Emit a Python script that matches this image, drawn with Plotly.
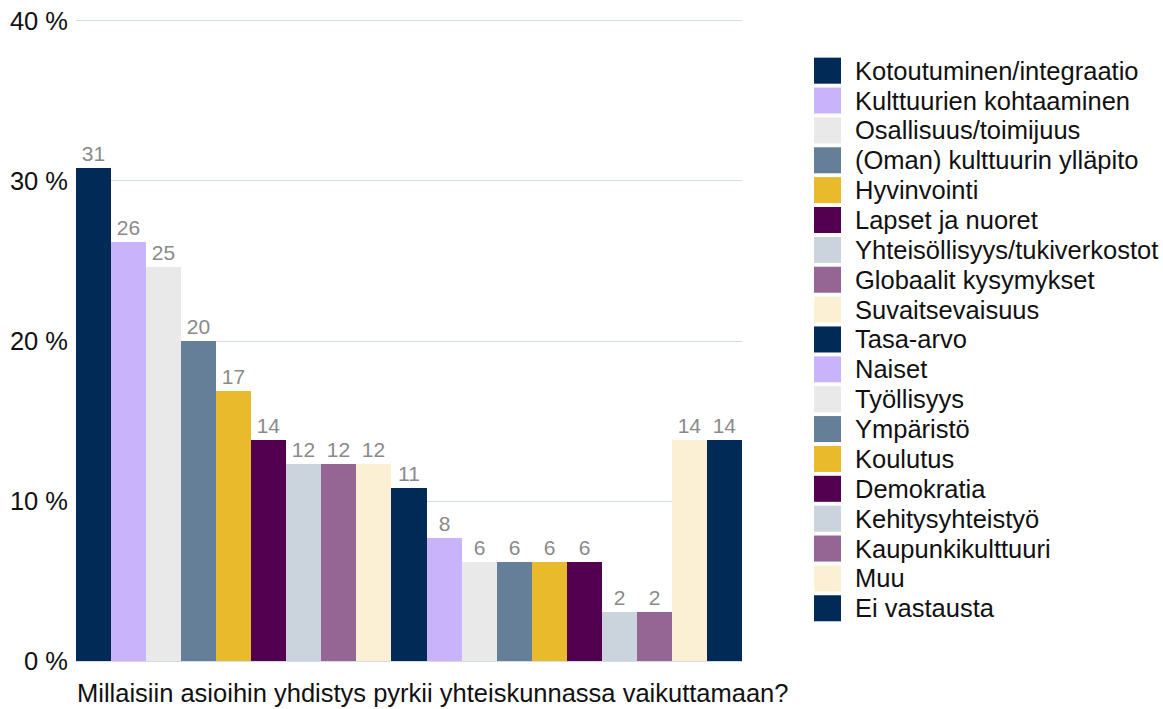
import plotly.graph_objects as go

categories = [
    "Kotoutuminen/integraatio", "Kulttuurien kohtaaminen", "Osallisuus/toimijuus",
    "(Oman) kulttuurin ylläpito", "Hyvinvointi", "Lapset ja nuoret",
    "Yhteisöllisyys/tukiverkostot", "Globaalit kysymykset", "Suvaitsevaisuus",
    "Tasa-arvo", "Naiset", "Työllisyys", "Ympäristö", "Koulutus", "Demokratia",
    "Kehitysyhteistyö", "Kaupunkikulttuuri", "Muu", "Ei vastausta",
]
values = [30.8, 26.2, 24.6, 20.0, 16.9, 13.8, 12.3, 12.3, 12.3, 10.8,
          7.7, 6.2, 6.2, 6.2, 6.2, 3.1, 3.1, 13.8, 13.8]
labels = ["31", "26", "25", "20", "17", "14", "12", "12", "12", "11",
          "8", "6", "6", "6", "6", "2", "2", "14", "14"]
palette = ["#012a57", "#c9b4fb", "#e9e9e9", "#667f99", "#e9bb2c", "#540050",
           "#cbd3dd", "#956694", "#fbf0d3"]
colors = [palette[i % len(palette)] for i in range(len(categories))]
y_ticks = [0, 10, 20, 30, 40]
y_tick_text = ["0 %", "10 %", "20 %", "30 %", "40 %"]
x_title = "Millaisiin asioihin yhdistys pyrkii yhteiskunnassa vaikuttamaan?"

W, H = 1163, 709
L, R = 76, 742
Y0_PX, Y40_PX = 661, 21          # pixel rows of 0 % and 40 %
PADV = 0.1                        # small range pad so edge gridlines stay visible
PXPER = (Y0_PX - Y40_PX) / 40.0
T = Y40_PX - PADV * PXPER
B = Y0_PX + PADV * PXPER
FONT = "Liberation Sans, Arial, sans-serif"
FS = 25.5

def px_x(p):
    return (p - L) / (R - L)

def px_y(p):
    return (B - p) / (B - T)

fig = go.Figure()
for name, v, lab, c in zip(categories, values, labels, colors):
    fig.add_trace(go.Bar(
        x=[0], y=[v], name=name, marker=dict(color=c, line=dict(width=0)),
        text=[lab], textposition="outside", cliponaxis=False,
        textfont=dict(family=FONT, size=21, color="#8a8a8a"),
        showlegend=False,
    ))

shapes = []
annotations = []
for i, (name, c) in enumerate(zip(categories, colors)):
    cy = 71 + i * 29.83
    shapes.append(dict(type="rect", xref="paper", yref="paper",
                       x0=px_x(814), x1=px_x(841), y0=px_y(cy + 13), y1=px_y(cy - 13),
                       fillcolor=c, line=dict(width=0)))
    annotations.append(dict(text=name, xref="paper", yref="paper",
                            x=px_x(853), y=px_y(cy), xanchor="left", yanchor="middle",
                            showarrow=False, font=dict(family=FONT, size=FS, color="#111111")))

annotations.append(dict(text=x_title, xref="paper", yref="paper",
                        x=px_x(75), y=px_y(693), xanchor="left", yanchor="middle",
                        showarrow=False, font=dict(family=FONT, size=FS, color="#111111")))

fig.update_layout(
    width=W, height=H,
    margin=dict(l=L, r=W - R, t=T, b=H - B, pad=0, autoexpand=False),
    barmode="group", bargap=0, bargroupgap=0,
    plot_bgcolor="white", paper_bgcolor="white",
    font=dict(family=FONT, size=FS, color="#111111"),
    xaxis=dict(range=[-0.5, 0.5], showticklabels=False, showgrid=False,
               zeroline=False, showline=False, fixedrange=True, automargin=False),
    yaxis=dict(range=[-PADV, 40 + PADV], tickmode="array", tickvals=y_ticks,
               ticktext=y_tick_text,
               gridcolor="#d3dbe6", gridwidth=1, zeroline=False, showline=False,
               tickfont=dict(family=FONT, size=FS, color="#111111"),
               ticklabelstandoff=7, automargin=False),
    shapes=shapes, annotations=annotations,
)

fig.write_html("out.html", config={"displayModeBar": False},
               post_script="document.body.style.margin='0px';")
